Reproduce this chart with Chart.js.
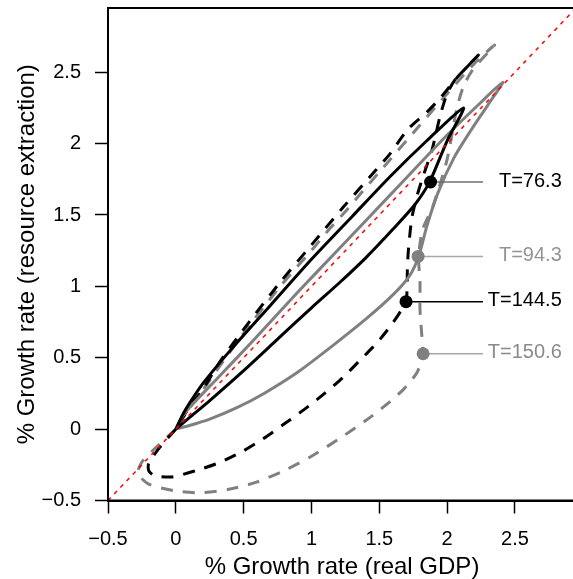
<!DOCTYPE html>
<html>
<head>
<meta charset="utf-8">
<script src="https://cdn.jsdelivr.net/npm/chart.js@4.4.1/dist/chart.umd.min.js"></script>
<style>
  html, body { margin: 0; padding: 0; overflow: hidden; background: #fff; }
  #wrap { width: 590px; height: 579px; }
</style>
</head>
<body>
<div id="wrap"><canvas id="chart" width="590" height="579"></canvas></div>
<script>
// axis ticks
const tickValues = [-0.5, 0, 0.5, 1, 1.5, 2, 2.5];
const tickLabels = ['\u22120.5', '0', '0.5', '1', '1.5', '2', '2.5'];

// curves as [x, y] = [% growth real GDP, % growth resource extraction]
const blackSolid = [
  [0, 0], [0.05, 0.1], [0.1, 0.18], [0.2, 0.32], [0.4, 0.55], [0.7, 0.87], [1.0, 1.19],
  [1.3, 1.49], [1.58, 1.77], [1.85, 2.02], [2.12, 2.25],
  [2.0, 2.02], [1.87, 1.73],
  [1.76, 1.57], [1.6, 1.4], [1.4, 1.2], [1.2, 1.02], [1.0, 0.85], [0.75, 0.63],
  [0.5, 0.41], [0.25, 0.2], [0.1, 0.08], [0, 0]
];
const graySolid = [
  [0, 0], [0.05, 0.09], [0.12, 0.17], [0.3, 0.35], [0.55, 0.6], [0.9, 0.96], [1.2, 1.26],
  [1.6, 1.66], [2.0, 2.06], [2.25, 2.29], [2.41, 2.43],
  [2.3, 2.27], [2.18, 2.1], [2.05, 1.9], [1.93, 1.65], [1.85, 1.42], [1.79, 1.21],
  [1.72, 1.07], [1.6, 0.94], [1.4, 0.77], [1.15, 0.58], [0.9, 0.4], [0.65, 0.25],
  [0.45, 0.15], [0.25, 0.07], [0.1, 0.025], [0, 0]
];
const blackDashed = [
  [0, 0], [-0.12, -0.13], [-0.2, -0.24], [-0.2, -0.29], [-0.16, -0.325], [-0.03, -0.335],
  [0.15, -0.29], [0.32, -0.235], [0.49, -0.157], [0.64, -0.07], [0.79, 0.03], [0.95, 0.14],
  [1.09, 0.245], [1.23, 0.36], [1.36, 0.485], [1.49, 0.612], [1.6, 0.745], [1.66, 0.83],
  [1.697, 0.893], [1.705, 1.0], [1.707, 1.12], [1.715, 1.26], [1.74, 1.48], [1.78, 1.64],
  [1.83, 1.79], [1.89, 1.96], [1.95, 2.2], [2.0, 2.35], [2.06, 2.45], [2.15, 2.54], [2.23, 2.62],
  [2.08, 2.47], [1.95, 2.32], [1.85, 2.22], [1.71, 2.1], [1.58, 1.93], [1.48, 1.82],
  [1.23, 1.55], [1.0, 1.29], [0.77, 1.03], [0.54, 0.75], [0.32, 0.465], [0.2, 0.28],
  [0.1, 0.156], [0, 0]
];
const grayDashed = [
  [0, 0], [-0.17, -0.15], [-0.25, -0.23], [-0.28, -0.31], [-0.2, -0.385], [-0.02, -0.43],
  [0.175, -0.446], [0.4, -0.42], [0.6, -0.37], [0.8, -0.29], [1.0, -0.19], [1.2, -0.07],
  [1.4, 0.06], [1.55, 0.17], [1.68, 0.28], [1.78, 0.4], [1.82, 0.53],
  [1.814, 0.647], [1.8, 0.836], [1.8, 1.025], [1.79, 1.21], [1.82, 1.4], [1.895, 1.56],
  [2.0, 1.89], [2.07, 2.24], [2.12, 2.4], [2.19, 2.52], [2.35, 2.69],
  [2.2, 2.56], [2.0, 2.35], [1.8, 2.13], [1.49, 1.79], [1.38, 1.67], [1.26, 1.535],
  [1.14, 1.41], [1.025, 1.28], [0.77, 1.0], [0.55, 0.735], [0.33, 0.45], [0.2, 0.275],
  [0.1, 0.145], [0, 0]
];
const diagonal = [[-0.5, -0.5], [2.95, 2.95]];

// marked times
const markerT = ['T=76.3', 'T=94.3', 'T=144.5', 'T=150.6'];
const markerX = [1.878, 1.786, 1.697, 1.823];
const markerY = [1.731, 1.21, 0.893, 0.528];
const leaderEnd = 2.264;
const labelRight = 2.845;

const family = '"Liberation Sans", Arial, Helvetica, sans-serif';
const markerColors = ['#000', '#808080', '#000', '#808080'];
const leaderColors = ['#6e6e6e', '#a8a8a8', '#000', '#a8a8a8'];
const labelColors = ['#000', '#949494', '#000', '#8a8a8a'];

const pts = arr => arr.map(p => ({ x: p[0], y: p[1] }));

const datasets = [];
markerT.forEach((t, i) => {
  datasets.push({
    data: [{ x: markerX[i], y: markerY[i] }],
    showLine: false, pointRadius: 6.5, pointBackgroundColor: markerColors[i],
    pointBorderWidth: 0, pointBorderColor: markerColors[i]
  });
});
markerT.forEach((t, i) => {
  datasets.push({
    data: [{ x: markerX[i], y: markerY[i] }, { x: leaderEnd, y: markerY[i] }],
    showLine: true, pointRadius: 0, borderColor: leaderColors[i], borderWidth: 1.5
  });
});
datasets.push({ data: pts(diagonal), showLine: true, pointRadius: 0, borderColor: '#ff0000', borderWidth: 1.5, borderDash: [4, 5] });
datasets.push({ data: pts(blackSolid), showLine: true, pointRadius: 0, borderColor: '#000', borderWidth: 3, tension: 0.25 });
datasets.push({ data: pts(graySolid), showLine: true, pointRadius: 0, borderColor: '#808080', borderWidth: 3, tension: 0.25 });
datasets.push({ data: pts(blackDashed), showLine: true, pointRadius: 0, borderColor: '#000', borderWidth: 3, borderDash: [12, 10], tension: 0.25 });
datasets.push({ data: pts(grayDashed), showLine: true, pointRadius: 0, borderColor: '#808080', borderWidth: 3, borderDash: [12, 10], tension: 0.25 });

const labelPlugin = {
  id: 'tlabels',
  afterDatasetsDraw(chart) {
    const { ctx, scales: { x, y }, chartArea: a } = chart;
    ctx.save();
    ctx.font = '20px ' + family;
    ctx.textAlign = 'right';
    ctx.textBaseline = 'middle';
    markerT.forEach((t, i) => {
      ctx.fillStyle = labelColors[i];
      ctx.fillText(t, x.getPixelForValue(labelRight), y.getPixelForValue(markerY[i]) - 1);
    });
    ctx.strokeStyle = '#000';
    ctx.lineWidth = 2;
    ctx.strokeRect(a.left, a.top, a.right - a.left, a.bottom - a.top);
    ctx.restore();
  }
};

const axis = (title, fit) => ({
  type: 'linear', min: -0.5, max: 2.95,
  afterBuildTicks: s => { s.ticks = tickValues.map(v => ({ value: v })); },
  afterFit: s => {
    fit(s);
    s.paddingTop = 0; s.paddingBottom = 0; s.paddingLeft = 0; s.paddingRight = 0;
  },
  ticks: {
    callback: (v, i) => tickLabels[i], font: { size: 20, family }, color: '#000',
    padding: 14, maxRotation: 0, autoSkip: false
  },
  grid: { display: true, drawOnChartArea: false, drawTicks: true, tickLength: 13, tickWidth: 1.5, tickColor: '#000' },
  border: { display: true, color: '#000', width: 2 },
  title: { display: true, text: title, font: { size: 24, family, lineHeight: 1 }, color: '#000', padding: 0 }
});

const yAxis = axis('% Growth rate (resource extraction)', s => { s.width = 108; });
yAxis.title.padding = { top: 15, bottom: 0 };

new Chart(document.getElementById('chart'), {
  type: 'scatter',
  data: { datasets },
  options: {
    responsive: false,
    animation: false,
    devicePixelRatio: 1,
    layout: { padding: { top: 8, right: 14, left: 0, bottom: 0 } },
    plugins: { legend: { display: false }, tooltip: { enabled: false } },
    scales: {
      x: axis('% Growth rate (real GDP)', s => { s.height = 78.5; }),
      y: yAxis
    }
  },
  plugins: [labelPlugin]
});
</script>
</body>
</html>
